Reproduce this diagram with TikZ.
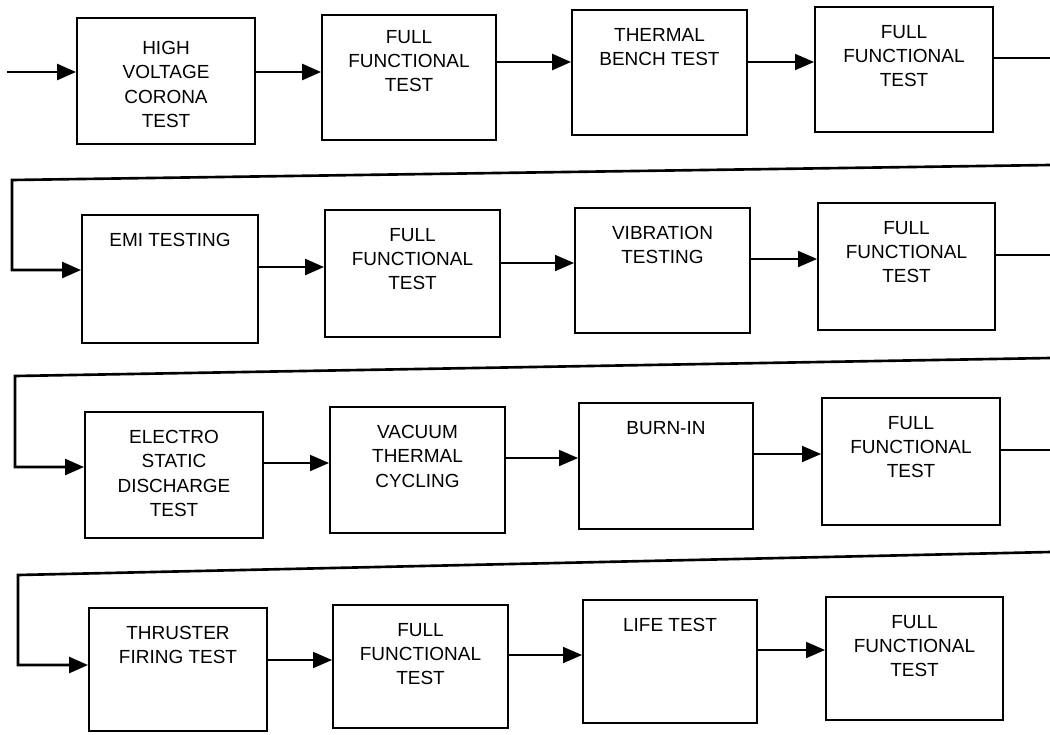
\documentclass[tikz,border=0pt]{standalone}
\usepackage{fontspec}
\setmainfont{Liberation Sans}
\usetikzlibrary{arrows.meta}
\tikzset{
  box/.style={draw, line width=1.1pt, inner sep=0pt, rectangle},
  lbl/.style={anchor=north, align=center, inner sep=0pt, yshift=-0.38cm,
    font=\fontsize{10.8}{13.8}\selectfont},
  conn/.style={line width=1pt},
  thk/.style={line width=1.5pt},
  arr/.style={conn, -{Triangle[length=0.38cm,width=0.32cm]}},
}
\newcommand\mkbox[7][]{%
  \node[box, minimum width={(#4-#3)*0.02cm}, minimum height={(#6-#5)*0.02cm}]
    (#2) at ({(#3+#4)/2},{(#5+#6)/2}) {};
  \node[lbl,#1] (#2t) at (#2.north) {#7};
}
\begin{document}
\begin{tikzpicture}[x=0.02cm, y=-0.02cm]
\useasboundingbox (0,0) rectangle (1050,734);
% row 1
\mkbox[yshift=-0.1cm]{b1}{77}{255}{18}{144}{HIGH\\VOLTAGE\\CORONA\\TEST}
\mkbox[yshift=0.06cm]{b2}{322}{496}{15}{140}{FULL\\FUNCTIONAL\\TEST}
\mkbox{b3}{572}{747}{10}{135}{THERMAL\\BENCH TEST}
\mkbox{b4}{815}{993}{7}{132}{FULL\\FUNCTIONAL\\TEST}
% row 2
\mkbox{b5}{82}{258}{215}{343}{EMI TESTING}
\mkbox{b6}{325}{500}{210}{337}{FULL\\FUNCTIONAL\\TEST}
\mkbox{b7}{575}{750}{208}{333}{VIBRATION\\TESTING}
\mkbox{b8}{818}{995}{203}{330}{FULL\\FUNCTIONAL\\TEST}
% row 3
\mkbox{b9}{85}{263}{412}{538}{ELECTRO\\STATIC\\DISCHARGE\\TEST}
\mkbox{b10}{330}{505}{407}{533}{VACUUM\\THERMAL\\CYCLING}
\mkbox{b11}{579}{753}{403}{529}{BURN-IN}
\mkbox{b12}{822}{1000}{398}{525}{FULL\\FUNCTIONAL\\TEST}
% row 4
\mkbox{b13}{89}{267}{608}{731}{THRUSTER\\FIRING TEST}
\mkbox{b14}{333}{508}{605}{728}{FULL\\FUNCTIONAL\\TEST}
\mkbox{b15}{583}{757}{600}{723}{LIFE TEST}
\mkbox{b16}{826}{1003}{597}{720}{FULL\\FUNCTIONAL\\TEST}
% helper coordinates
\coordinate (in0) at (7,72);
\coordinate (ya) at (0,72);
\coordinate (yb) at (0,62);
\coordinate (o1) at (1050,58);
\coordinate (r1a) at (1050,165);
\coordinate (r1b) at (12,180);
\coordinate (y5) at (0,270);
\coordinate (y6) at (0,267);
\coordinate (y7) at (0,263);
\coordinate (y8) at (0,259);
\coordinate (o2) at (1050,255);
\coordinate (r2a) at (1050,358);
\coordinate (r2b) at (15,376);
\coordinate (y9) at (0,467);
\coordinate (y10) at (0,463);
\coordinate (y11) at (0,458);
\coordinate (y12) at (0,454);
\coordinate (o3) at (1050,450);
\coordinate (r3a) at (1050,552);
\coordinate (r3b) at (18,575);
\coordinate (y13) at (0,665);
\coordinate (y14) at (0,660);
\coordinate (y15) at (0,655);
\coordinate (y16) at (0,650);
% row 1 connectors
\draw[arr, thk] (in0) -- (b1.west |- ya);
\draw[arr, thk] (b1.east |- ya) -- (b2.west |- ya);
\draw[arr, thk] (b2.east |- yb) -- (b3.west |- yb);
\draw[arr] (b3.east |- yb) -- (b4.west |- yb);
\draw[conn] (b4.east |- o1) -- (o1);
% return 1
\draw[arr, thk] (r1a) -- (r1b) |- (b5.west |- y5);
% row 2
\draw[arr, thk] (b5.east |- y6) -- (b6.west |- y6);
\draw[arr] (b6.east |- y7) -- (b7.west |- y7);
\draw[arr] (b7.east |- y8) -- (b8.west |- y8);
\draw[conn] (b8.east |- o2) -- (o2);
% return 2
\draw[arr, thk] (r2a) -- (r2b) |- (b9.west |- y9);
% row 3
\draw[arr] (b9.east |- y10) -- (b10.west |- y10);
\draw[arr] (b10.east |- y11) -- (b11.west |- y11);
\draw[arr] (b11.east |- y12) -- (b12.west |- y12);
\draw[conn] (b12.east |- o3) -- (o3);
% return 3
\draw[arr, thk] (r3a) -- (r3b) |- (b13.west |- y13);
% row 4
\draw[arr] (b13.east |- y14) -- (b14.west |- y14);
\draw[arr] (b14.east |- y15) -- (b15.west |- y15);
\draw[arr] (b15.east |- y16) -- (b16.west |- y16);
\end{tikzpicture}
\end{document}
